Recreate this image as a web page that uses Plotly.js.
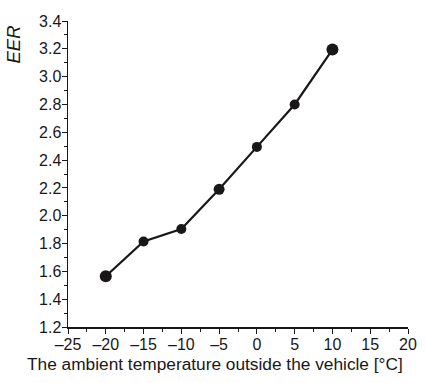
<!DOCTYPE html>
<html><head><meta charset="utf-8">
<script src="https://cdn.plot.ly/plotly-3.0.1.min.js"></script>
<style>html,body{margin:0;padding:0;background:#fff}#chart{width:426px;height:383px}</style>
</head><body><div id="chart"></div>
<script>
const temperature = [-20, -15, -10, -5, 0, 5, 10];
const eer = [1.565, 1.815, 1.905, 2.19, 2.495, 2.80, 3.195];
const xTickVals = [-25, -20, -15, -10, -5, 0, 5, 10, 15, 20];
const xTickText = ['\u201325', '\u201320', '\u201315', '\u201310', '\u20135', '0', '5', '10', '15', '20'];
const yTickVals = [1.2, 1.4, 1.6, 1.8, 2.0, 2.2, 2.4, 2.6, 2.8, 3.0, 3.2, 3.4];
const yTickText = ['1.2', '1.4', '1.6', '1.8', '2.0', '2.2', '2.4', '2.6', '2.8', '3.0', '3.2', '3.4'];
const xTitle = 'The ambient temperature outside the vehicle [\u00b0C]';
const yTitle = '<i>EER</i>';

const ink = '#1a1718';
const trace = {
  x: temperature, y: eer, type: 'scatter', mode: 'lines+markers',
  line: {color: ink, width: 2.2},
  marker: {color: ink, opacity: 1, size: [12, 10, 10, 11, 10, 10, 12], line: {width: 0}},
  cliponaxis: false, hoverinfo: 'none'
};
const layout = {
  width: 426, height: 383,
  margin: {l: 68, r: 18, t: 21, b: 56},
  paper_bgcolor: '#fff', plot_bgcolor: '#fff',
  font: {family: 'Liberation Sans, Arial, sans-serif', color: ink, size: 16},
  showlegend: false,
  xaxis: {
    range: [-25, 20], tickmode: 'array', tickvals: xTickVals, ticktext: xTickText,
    showgrid: false, zeroline: false, showline: true, linecolor: ink, linewidth: 1.5,
    ticks: 'outside', ticklen: 5, tickwidth: 1, tickcolor: ink, ticklabelstandoff: -3,
    minor: {dtick: 2.5, ticks: 'outside', ticklen: 3, tickcolor: ink, tickwidth: 1, showgrid: false},
    tickfont: {size: 16}
  },
  yaxis: {
    range: [1.2, 3.4], tickmode: 'array', tickvals: yTickVals, ticktext: yTickText,
    showgrid: false, zeroline: false, showline: true, linecolor: ink, linewidth: 1.5,
    ticks: 'outside', ticklen: 5, tickwidth: 1, tickcolor: ink, ticklabelstandoff: -3,
    minor: {dtick: 0.1, ticks: 'outside', ticklen: 3, tickcolor: ink, tickwidth: 1, showgrid: false},
    tickfont: {size: 16}
  },
  annotations: [{
    text: yTitle, xref: 'paper', yref: 'paper', x: 0, y: 1,
    xanchor: 'right', yanchor: 'top', xshift: -43, yshift: -3, textangle: -90,
    showarrow: false, font: {size: 18.5, color: ink}
  }, {
    text: xTitle, xref: 'paper', yref: 'paper', x: 0.431, y: 0,
    xanchor: 'center', yanchor: 'middle', yshift: -37,
    showarrow: false, font: {size: 17.3, color: ink}
  }]
};
Plotly.newPlot('chart', [trace], layout, {displayModeBar: false, staticPlot: true});
</script></body></html>
